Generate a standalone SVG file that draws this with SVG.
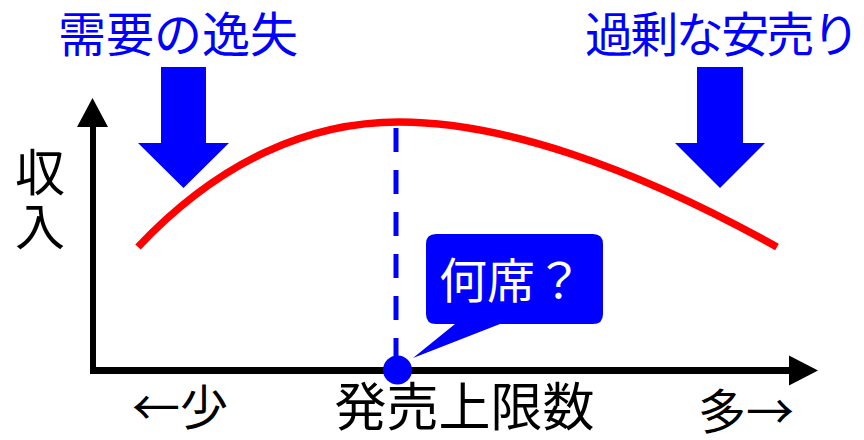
<svg xmlns="http://www.w3.org/2000/svg" width="864" height="440" viewBox="0 0 864 440">
<style>
.t{font-family:"Noto Sans CJK JP","Noto Sans CJK SC",sans-serif;}
.blue{fill:#0000FF;}
.blk{fill:#000;}
</style>
<rect width="864" height="440" fill="#fff"/>
<g id="axes">
<line x1="93" y1="373" x2="93" y2="124" stroke="#000" stroke-width="6"/>
<polygon points="92.5,98 77,127 108,127" fill="#000"/>
<line x1="90" y1="370.5" x2="792" y2="370.5" stroke="#000" stroke-width="7"/>
<polygon points="818,370.5 789,355.5 789,385.5" fill="#000"/>
</g>
<g id="connectors">
<path d="M138,247 C220,160 310,122 399,122 C500,122 630,165 777,247" fill="none" stroke="#FF0000" stroke-width="7.5"/>
<line x1="396" y1="128" x2="396" y2="370" stroke="#0000FF" stroke-width="5" stroke-dasharray="24 18"/>
</g>
<g id="arrow-left">
<polygon points="161,67 206,67 206,143 229,143 183.5,188 138,143 161,143" class="blue"/>
</g>
<g id="arrow-right">
<polygon points="697,67 743,67 743,143 765,143 720,188 675,143 697,143" class="blue"/>
</g>
<g id="title-left"><text class="t blue" x="58" y="52" font-size="48">需要の逸失</text></g>
<g id="title-right"><text class="t blue" x="585" y="52" font-size="48" letter-spacing="-2.6">過剰な安売り</text></g>
<g id="ylabel">
<text class="t blk" x="40" y="147" font-size="50" writing-mode="vertical-rl" letter-spacing="4">収入</text>
</g>
<g id="callout">
<path d="M436,234 H593 Q603,234 603,244 V314 Q603,324 593,324 H500 L413,358 L455,324 H436 Q426,324 426,314 V244 Q426,234 436,234 Z" class="blue"/>
<text class="t" x="511" y="298" font-size="48" text-anchor="middle" fill="#fff">何席？</text>
</g>
<g id="point"><circle cx="397.5" cy="370" r="14.5" class="blue"/></g>
<g id="xlabels">
<text class="t blk" x="132" y="425" font-size="48">←少</text>
<text class="t blk" x="464.5" y="426" font-size="52" text-anchor="middle">発売上限数</text>
<text class="t blk" x="794" y="429" font-size="48" text-anchor="end">多→</text>
</g>
</svg>
